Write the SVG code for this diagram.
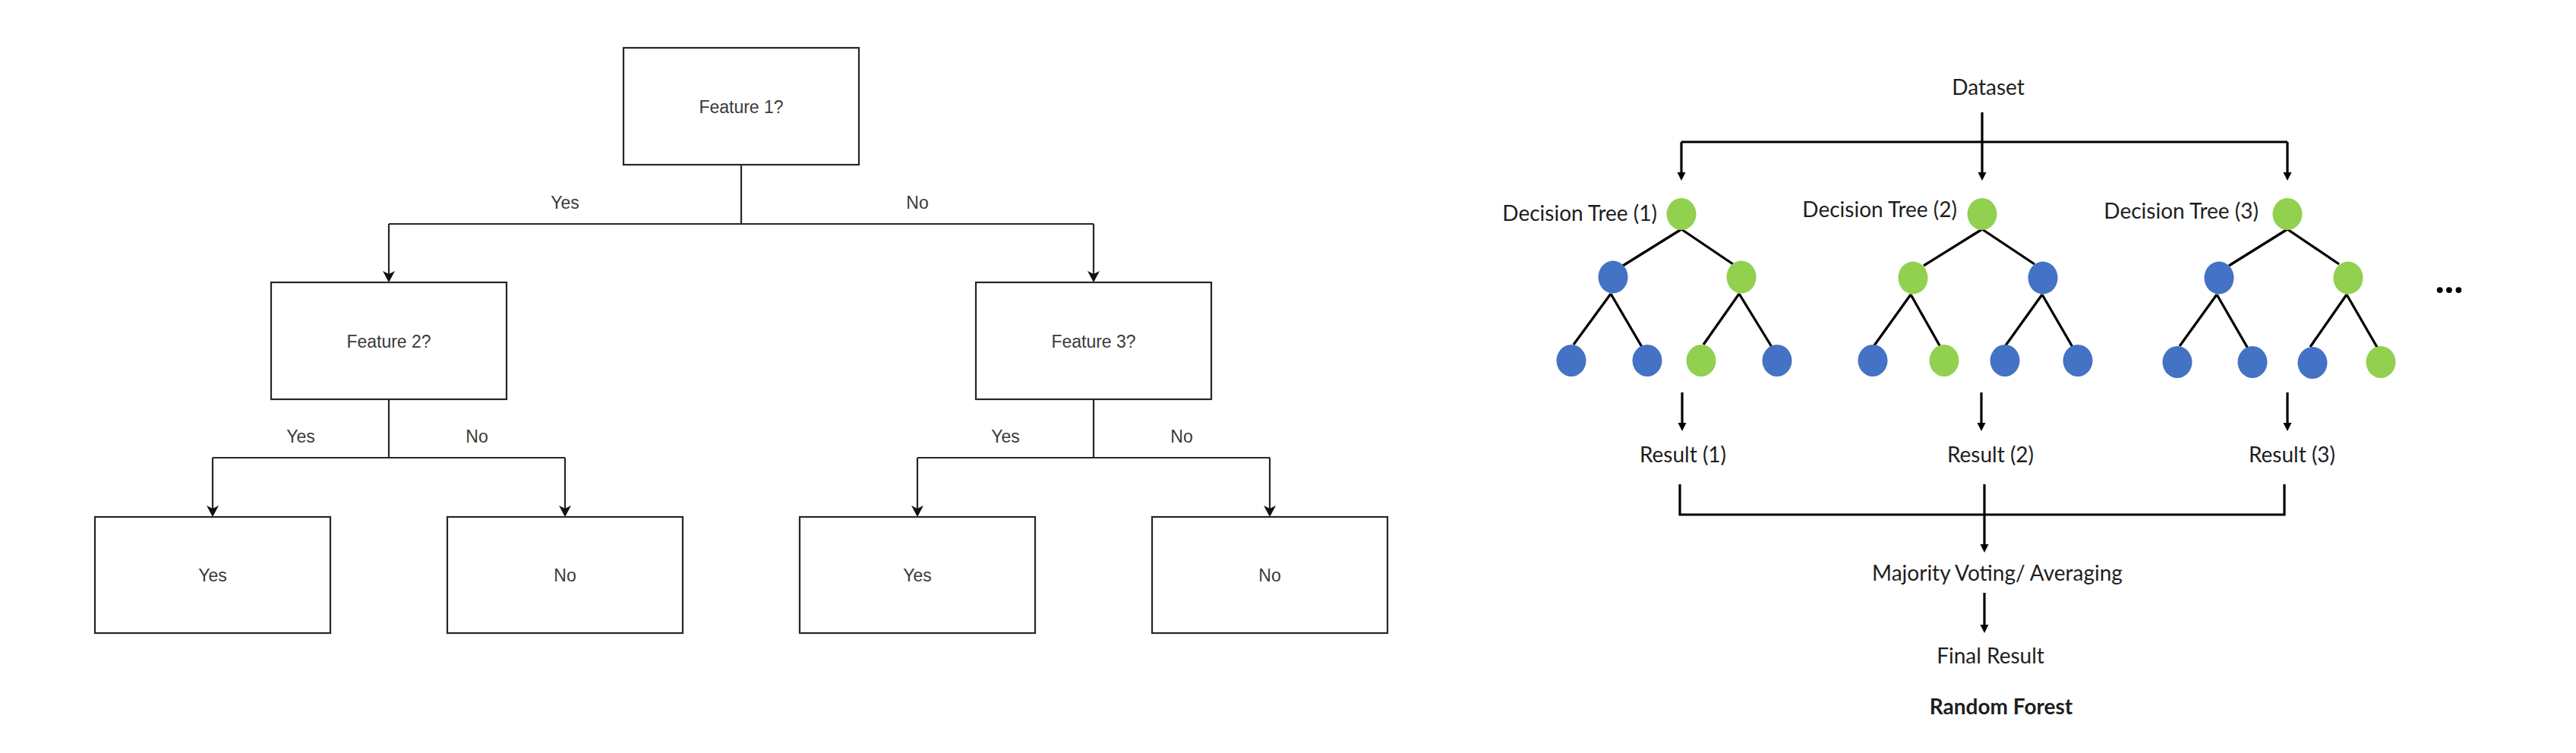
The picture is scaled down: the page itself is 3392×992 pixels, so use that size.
<svg xmlns="http://www.w3.org/2000/svg" width="3392" height="992" viewBox="0 0 3392 992">
<style>
.box{fill:#ffffff;stroke:#262626;stroke-width:2.2}
.ln{fill:none;stroke:#262626;stroke-width:2.2}
.t1{font-family:"Liberation Sans",Arial,sans-serif;font-size:23px;fill:#3a3a3a;text-anchor:middle}
.rl{fill:none;stroke:#000000;stroke-width:3.2}
.el{fill:none;stroke:#000000;stroke-width:3.3}
.t2{font-family:Lato,"Noto Sans",sans-serif;font-size:28px;fill:#1e1e1e}
.mid{text-anchor:middle}
.end{text-anchor:end}
.g{fill:#92D050}
.b{fill:#4472C4}
</style>
<rect width="3392" height="992" fill="#ffffff"/>

<!-- Left decision tree -->
<g id="connectors-left">
<path class="ln" d="M976,217 V295 M512,295 H1440"/>
<path class="ln" d="M512,295 V361"/>
<path class="ln" d="M1440,295 V361"/>
<path class="ln" d="M512,526 V603 M280,603 H744"/>
<path class="ln" d="M1440,526 V603 M1208,603 H1672"/>
<path class="ln" d="M280,603 V670"/>
<path class="ln" d="M744,603 V670"/>
<path class="ln" d="M1208,603 V670"/>
<path class="ln" d="M1672,603 V670"/>
<g fill="#111">
<path d="M512,372 L504,357 L512,361 L520,357 Z"/>
<path d="M1440,372 L1432,357 L1440,361 L1448,357 Z"/>
<path d="M280,681 L272,666 L280,670 L288,666 Z"/>
<path d="M744,681 L736,666 L744,670 L752,666 Z"/>
<path d="M1208,681 L1200,666 L1208,670 L1216,666 Z"/>
<path d="M1672,681 L1664,666 L1672,670 L1680,666 Z"/>
</g>
<text class="t1" x="744" y="275">Yes</text>
<text class="t1" x="1208" y="275">No</text>
<text class="t1" x="396" y="583">Yes</text>
<text class="t1" x="628" y="583">No</text>
<text class="t1" x="1324" y="583">Yes</text>
<text class="t1" x="1556" y="583">No</text>
</g>
<g id="feature1"><rect class="box" x="821" y="63" width="310" height="154"/><text class="t1" x="976" y="149">Feature 1?</text></g>
<g id="feature2"><rect class="box" x="357" y="372" width="310" height="154"/><text class="t1" x="512" y="458">Feature 2?</text></g>
<g id="feature3"><rect class="box" x="1285" y="372" width="310" height="154"/><text class="t1" x="1440" y="458">Feature 3?</text></g>
<g id="leaf1"><rect class="box" x="125" y="681" width="310" height="153"/><text class="t1" x="280" y="766">Yes</text></g>
<g id="leaf2"><rect class="box" x="589" y="681" width="310" height="153"/><text class="t1" x="744" y="766">No</text></g>
<g id="leaf3"><rect class="box" x="1053" y="681" width="310" height="153"/><text class="t1" x="1208" y="766">Yes</text></g>
<g id="leaf4"><rect class="box" x="1517" y="681" width="310" height="153"/><text class="t1" x="1672" y="766">No</text></g>

<!-- Random forest -->
<g id="connectors-right">
<path class="rl" d="M2214,187 H3012"/>
<path class="rl" d="M2610,148 V229"/>
<path class="rl" d="M2214,187 V229"/>
<path class="rl" d="M3012,187 V229"/>
<path class="rl" d="M2215,517 V559"/>
<path class="rl" d="M2609,517 V559"/>
<path class="rl" d="M3012,517 V559"/>
<path class="rl" d="M2212,638 V678 H3008 V638"/>
<path class="rl" d="M2613,638 V719"/>
<path class="rl" d="M2613,781 V825"/>
<g fill="#000">
<path d="M2208.5,227 L2219.5,227 L2214,238 Z"/>
<path d="M2604.5,227 L2615.5,227 L2610,238 Z"/>
<path d="M3006.5,227 L3017.5,227 L3012,238 Z"/>
<path d="M2209.5,557 L2220.5,557 L2215,568 Z"/>
<path d="M2603.5,557 L2614.5,557 L2609,568 Z"/>
<path d="M3006.5,557 L3017.5,557 L3012,568 Z"/>
<path d="M2607.5,717 L2618.5,717 L2613,728 Z"/>
<path d="M2607.5,823 L2618.5,823 L2613,834 Z"/>
</g>
</g>

<g id="dataset"><text class="t2 mid" x="2618" y="125">Dataset</text></g>

<g id="tree1">
<text class="t2 end" x="2182" y="291">Decision Tree (1)</text>
<path class="el" d="M2214,302 L2137,350 M2214,302 L2282,348 M2121,387 L2072,454 M2121,387 L2162,457 M2290,387 L2243,454 M2290,387 L2333,457"/>
<ellipse class="g" cx="2214" cy="282" rx="19.5" ry="21"/>
<ellipse class="b" cx="2124" cy="365" rx="19.5" ry="21.5"/>
<ellipse class="g" cx="2293" cy="365" rx="19.5" ry="21.5"/>
<ellipse class="b" cx="2069" cy="475" rx="19.5" ry="21"/>
<ellipse class="b" cx="2169" cy="475" rx="19.5" ry="21"/>
<ellipse class="g" cx="2240" cy="475" rx="19.5" ry="21"/>
<ellipse class="b" cx="2340" cy="475" rx="19.5" ry="21"/>
</g>

<g id="tree2">
<text class="t2 end" x="2577" y="286">Decision Tree (2)</text>
<path class="el" d="M2610,302 L2533,350 M2610,302 L2679,348 M2516,388 L2468,455 M2516,388 L2555,457 M2689,388 L2641,455 M2689,388 L2729,457"/>
<ellipse class="g" cx="2610" cy="282" rx="19.5" ry="21"/>
<ellipse class="g" cx="2519" cy="366" rx="19.5" ry="21.5"/>
<ellipse class="b" cx="2690" cy="366" rx="19.5" ry="21.5"/>
<ellipse class="b" cx="2466" cy="475" rx="19.5" ry="21"/>
<ellipse class="g" cx="2560" cy="475" rx="19.5" ry="21"/>
<ellipse class="b" cx="2640" cy="475" rx="19.5" ry="21"/>
<ellipse class="b" cx="2736" cy="475" rx="19.5" ry="21"/>
</g>

<g id="tree3">
<text class="t2 end" x="2974" y="288">Decision Tree (3)</text>
<path class="el" d="M3012,302 L2935,350 M3012,302 L3080,348 M2919,388 L2870,456 M2919,388 L2960,459 M3090,388 L3042,457 M3090,388 L3131,459"/>
<ellipse class="g" cx="3012" cy="282" rx="19.5" ry="21"/>
<ellipse class="b" cx="2922" cy="366" rx="19.5" ry="21.5"/>
<ellipse class="g" cx="3092" cy="366" rx="19.5" ry="21.5"/>
<ellipse class="b" cx="2867" cy="477" rx="19.5" ry="21"/>
<ellipse class="b" cx="2966" cy="477" rx="19.5" ry="21"/>
<ellipse class="b" cx="3045" cy="478" rx="19.5" ry="21"/>
<ellipse class="g" cx="3135" cy="477" rx="19.5" ry="21"/>
</g>

<g id="ellipsis"><text x="3225" y="386" font-family="Lato,'Noto Sans',sans-serif" font-weight="bold" font-size="52" fill="#000" text-anchor="middle">...</text></g>

<g id="result1"><text class="t2 mid" x="2216" y="609">Result (1)</text></g>
<g id="result2"><text class="t2 mid" x="2621" y="609">Result (2)</text></g>
<g id="result3"><text class="t2 mid" x="3018" y="609">Result (3)</text></g>
<g id="voting"><text class="t2 mid" x="2630" y="765">Majority Voting/ Averaging</text></g>
<g id="final"><text class="t2 mid" x="2621" y="874">Final Result</text></g>
<g id="title"><text class="t2 mid" x="2635" y="941" font-weight="bold" font-size="31">Random Forest</text></g>
</svg>
